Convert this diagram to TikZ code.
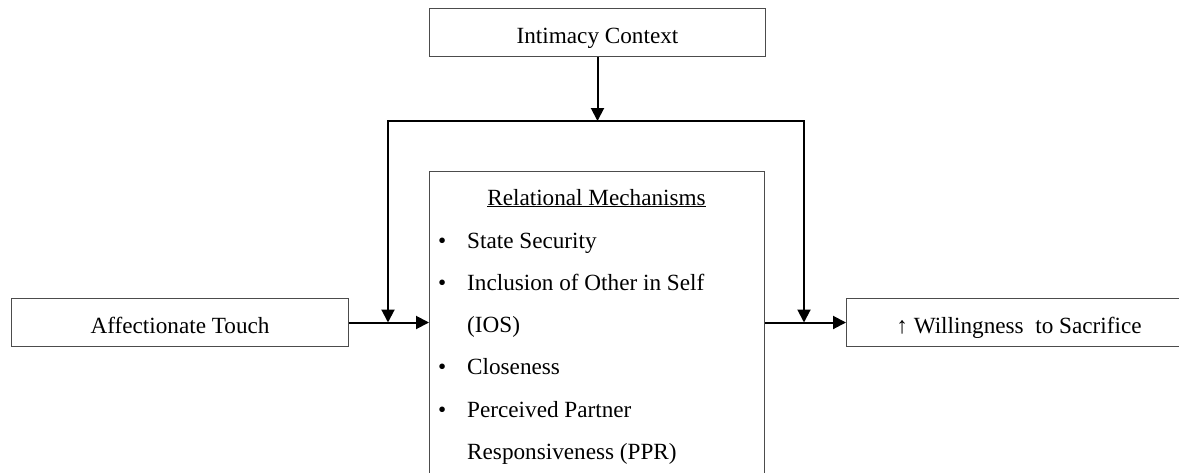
\documentclass[tikz,border=0pt]{standalone}
\usepackage{fontspec}
\setmainfont{Liberation Serif}
\usetikzlibrary{positioning,arrows.meta}

\begin{document}
\begin{tikzpicture}[x=1pt,y=-1pt,
    box/.style={draw=black!70,line width=1pt,inner sep=0pt,minimum height=48pt,
      text height=26pt,text depth=4pt,anchor=north west,font=\fontsize{23.2}{28}\selectfont},
    flow/.style={line width=2pt,line join=miter,-{Triangle[length=13pt,width=13pt]}}]
    \clip (0,0) rectangle (1179,472);

    \node[box,minimum width=336pt] (ctx)   at (429,8)   {Intimacy Context};
    \node[box,minimum width=337pt] (touch) at (11,298)  {Affectionate Touch};
    \node[box,minimum width=335pt,minimum height=340pt] (mech) at (429,171) {};
    \node[box,minimum width=345pt] (will)  at (846,298) {↑ Willingness\ \ to Sacrifice};

    % text inside the mechanisms box
    \node[anchor=base,inner sep=0pt,font=\fontsize{23.2}{28}\selectfont] (head) at (596.5,205)
      {\underline{Relational Mechanisms}};
    \node[anchor=base west,inner sep=0pt,font=\fontsize{23.2}{42.3}\selectfont] (items) at (438,248)
      {\begin{tabular}[t]{@{}l@{}l@{}}
        \makebox[29pt][l]{\textbullet} & State Security\\
        \makebox[29pt][l]{\textbullet} & Inclusion of Other in Self\\
          & (IOS)\\
        \makebox[29pt][l]{\textbullet} & Closeness\\
        \makebox[29pt][l]{\textbullet} & Perceived Partner\\
          & Responsiveness (PPR)
      \end{tabular}};

    \coordinate (jl) at (388,121);
    \coordinate (jr) at (804,121);

    \draw[flow] (ctx.south) -- (ctx.south |- jl);
    \draw[flow,{Triangle[length=13pt,width=13pt]}-{Triangle[length=13pt,width=13pt]}]
      (jl |- touch.east) -- (jl) -- (jr) -- (jr |- will.west);
    \draw[flow] (touch.east) -- (touch.east -| mech.west);
    \draw[flow] (mech.east |- will.west) -- (will.west);
\end{tikzpicture}
\end{document}
